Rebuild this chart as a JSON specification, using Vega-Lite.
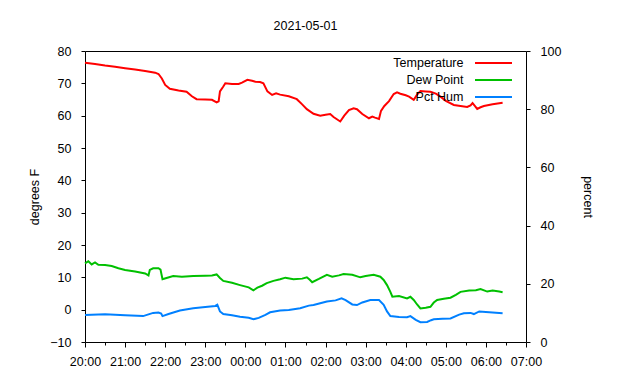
{
  "$schema": "https://vega.github.io/schema/vega-lite/v6.json",
  "width": 441,
  "height": 291,
  "autosize": {"type": "none"},
  "padding": {"left": 85, "top": 51, "right": 114, "bottom": 38},
  "title": {"text": "2021-05-01", "fontSize": 12.5, "fontWeight": "normal", "font": "Liberation Sans", "color": "black", "offset": 13},
  "config": {
    "font": "Liberation Sans",
    "view": {"stroke": "black", "strokeWidth": 1},
    "axis": {"grid": false, "domainColor": "black", "tickColor": "black", "labelColor": "black", "titleColor": "black", "labelFontSize": 12.5, "titleFontSize": 12.5, "titleFontWeight": "normal", "labelFont": "Liberation Sans", "titleFont": "Liberation Sans"},
    "legend": {"orient": "none", "legendX": 398, "legendY": 1.5, "labelFontSize": 12.5, "labelFont": "Liberation Sans", "labelColor": "black", "labelAlign": "right", "labelOffset": -40.5, "symbolType": "M-2,0H2", "symbolSize": 342, "symbolStrokeWidth": 2, "rowPadding": -2, "padding": 0}
  },
  "data": {"values": [
    {"t": "2021-05-01T20:00", "series": "Temperature", "value": 76.4},
    {"t": "2021-05-01T20:15", "series": "Temperature", "value": 76.0},
    {"t": "2021-05-01T20:30", "series": "Temperature", "value": 75.5},
    {"t": "2021-05-01T20:45", "series": "Temperature", "value": 75.1},
    {"t": "2021-05-01T21:00", "series": "Temperature", "value": 74.7},
    {"t": "2021-05-01T21:15", "series": "Temperature", "value": 74.3},
    {"t": "2021-05-01T21:30", "series": "Temperature", "value": 73.8},
    {"t": "2021-05-01T21:45", "series": "Temperature", "value": 73.3},
    {"t": "2021-05-01T21:50", "series": "Temperature", "value": 72.9},
    {"t": "2021-05-01T21:55", "series": "Temperature", "value": 71.5},
    {"t": "2021-05-01T22:00", "series": "Temperature", "value": 69.5},
    {"t": "2021-05-01T22:07", "series": "Temperature", "value": 68.3},
    {"t": "2021-05-01T22:20", "series": "Temperature", "value": 67.8},
    {"t": "2021-05-01T22:32", "series": "Temperature", "value": 67.4},
    {"t": "2021-05-01T22:40", "series": "Temperature", "value": 66.0},
    {"t": "2021-05-01T22:47", "series": "Temperature", "value": 65.1},
    {"t": "2021-05-01T23:00", "series": "Temperature", "value": 65.0},
    {"t": "2021-05-01T23:10", "series": "Temperature", "value": 64.9},
    {"t": "2021-05-01T23:17", "series": "Temperature", "value": 64.1},
    {"t": "2021-05-01T23:20", "series": "Temperature", "value": 64.4},
    {"t": "2021-05-01T23:22", "series": "Temperature", "value": 67.5},
    {"t": "2021-05-01T23:27", "series": "Temperature", "value": 69.0},
    {"t": "2021-05-01T23:30", "series": "Temperature", "value": 70.0},
    {"t": "2021-05-01T23:40", "series": "Temperature", "value": 69.8},
    {"t": "2021-05-01T23:50", "series": "Temperature", "value": 69.8},
    {"t": "2021-05-01T23:55", "series": "Temperature", "value": 70.2},
    {"t": "2021-05-02T00:03", "series": "Temperature", "value": 71.1},
    {"t": "2021-05-02T00:10", "series": "Temperature", "value": 70.8},
    {"t": "2021-05-02T00:15", "series": "Temperature", "value": 70.5},
    {"t": "2021-05-02T00:22", "series": "Temperature", "value": 70.4},
    {"t": "2021-05-02T00:27", "series": "Temperature", "value": 70.0},
    {"t": "2021-05-02T00:33", "series": "Temperature", "value": 67.5},
    {"t": "2021-05-02T00:40", "series": "Temperature", "value": 66.4},
    {"t": "2021-05-02T00:46", "series": "Temperature", "value": 66.9},
    {"t": "2021-05-02T00:52", "series": "Temperature", "value": 66.5},
    {"t": "2021-05-02T01:05", "series": "Temperature", "value": 66.0},
    {"t": "2021-05-02T01:17", "series": "Temperature", "value": 65.1},
    {"t": "2021-05-02T01:25", "series": "Temperature", "value": 63.5},
    {"t": "2021-05-02T01:32", "series": "Temperature", "value": 62.0},
    {"t": "2021-05-02T01:42", "series": "Temperature", "value": 60.6},
    {"t": "2021-05-02T01:52", "series": "Temperature", "value": 60.0},
    {"t": "2021-05-02T02:00", "series": "Temperature", "value": 60.3},
    {"t": "2021-05-02T02:07", "series": "Temperature", "value": 60.5},
    {"t": "2021-05-02T02:12", "series": "Temperature", "value": 59.6},
    {"t": "2021-05-02T02:22", "series": "Temperature", "value": 58.2},
    {"t": "2021-05-02T02:28", "series": "Temperature", "value": 60.0},
    {"t": "2021-05-02T02:35", "series": "Temperature", "value": 61.7},
    {"t": "2021-05-02T02:42", "series": "Temperature", "value": 62.3},
    {"t": "2021-05-02T02:47", "series": "Temperature", "value": 62.0},
    {"t": "2021-05-02T02:55", "series": "Temperature", "value": 60.5},
    {"t": "2021-05-02T03:05", "series": "Temperature", "value": 59.2},
    {"t": "2021-05-02T03:10", "series": "Temperature", "value": 59.7},
    {"t": "2021-05-02T03:14", "series": "Temperature", "value": 59.4},
    {"t": "2021-05-02T03:20", "series": "Temperature", "value": 59.0},
    {"t": "2021-05-02T03:23", "series": "Temperature", "value": 61.5},
    {"t": "2021-05-02T03:28", "series": "Temperature", "value": 63.0},
    {"t": "2021-05-02T03:35", "series": "Temperature", "value": 64.5},
    {"t": "2021-05-02T03:42", "series": "Temperature", "value": 66.7},
    {"t": "2021-05-02T03:47", "series": "Temperature", "value": 67.2},
    {"t": "2021-05-02T03:52", "series": "Temperature", "value": 66.8},
    {"t": "2021-05-02T04:00", "series": "Temperature", "value": 66.3},
    {"t": "2021-05-02T04:05", "series": "Temperature", "value": 65.9},
    {"t": "2021-05-02T04:12", "series": "Temperature", "value": 64.9},
    {"t": "2021-05-02T04:17", "series": "Temperature", "value": 66.5},
    {"t": "2021-05-02T04:22", "series": "Temperature", "value": 67.6},
    {"t": "2021-05-02T04:30", "series": "Temperature", "value": 67.5},
    {"t": "2021-05-02T04:37", "series": "Temperature", "value": 67.4},
    {"t": "2021-05-02T04:45", "series": "Temperature", "value": 66.8},
    {"t": "2021-05-02T04:52", "series": "Temperature", "value": 65.9},
    {"t": "2021-05-02T05:00", "series": "Temperature", "value": 64.6},
    {"t": "2021-05-02T05:12", "series": "Temperature", "value": 63.3},
    {"t": "2021-05-02T05:22", "series": "Temperature", "value": 63.0},
    {"t": "2021-05-02T05:32", "series": "Temperature", "value": 62.7},
    {"t": "2021-05-02T05:37", "series": "Temperature", "value": 63.2},
    {"t": "2021-05-02T05:40", "series": "Temperature", "value": 63.9},
    {"t": "2021-05-02T05:44", "series": "Temperature", "value": 62.9},
    {"t": "2021-05-02T05:47", "series": "Temperature", "value": 62.1},
    {"t": "2021-05-02T05:52", "series": "Temperature", "value": 62.6},
    {"t": "2021-05-02T05:57", "series": "Temperature", "value": 63.0},
    {"t": "2021-05-02T06:10", "series": "Temperature", "value": 63.5},
    {"t": "2021-05-02T06:25", "series": "Temperature", "value": 64.0},
    {"t": "2021-05-01T20:00", "series": "Dew Point", "value": 14.3},
    {"t": "2021-05-01T20:05", "series": "Dew Point", "value": 15.0},
    {"t": "2021-05-01T20:10", "series": "Dew Point", "value": 14.0},
    {"t": "2021-05-01T20:15", "series": "Dew Point", "value": 14.6},
    {"t": "2021-05-01T20:20", "series": "Dew Point", "value": 13.9},
    {"t": "2021-05-01T20:30", "series": "Dew Point", "value": 13.8},
    {"t": "2021-05-01T20:40", "series": "Dew Point", "value": 13.5},
    {"t": "2021-05-01T20:50", "series": "Dew Point", "value": 12.8},
    {"t": "2021-05-01T21:00", "series": "Dew Point", "value": 12.3},
    {"t": "2021-05-01T21:15", "series": "Dew Point", "value": 11.8},
    {"t": "2021-05-01T21:30", "series": "Dew Point", "value": 11.2},
    {"t": "2021-05-01T21:35", "series": "Dew Point", "value": 10.6},
    {"t": "2021-05-01T21:37", "series": "Dew Point", "value": 12.3},
    {"t": "2021-05-01T21:42", "series": "Dew Point", "value": 12.8},
    {"t": "2021-05-01T21:50", "series": "Dew Point", "value": 12.8},
    {"t": "2021-05-01T21:53", "series": "Dew Point", "value": 12.4},
    {"t": "2021-05-01T21:56", "series": "Dew Point", "value": 9.4},
    {"t": "2021-05-01T22:02", "series": "Dew Point", "value": 9.8},
    {"t": "2021-05-01T22:12", "series": "Dew Point", "value": 10.4},
    {"t": "2021-05-01T22:25", "series": "Dew Point", "value": 10.2},
    {"t": "2021-05-01T22:42", "series": "Dew Point", "value": 10.4},
    {"t": "2021-05-01T23:00", "series": "Dew Point", "value": 10.5},
    {"t": "2021-05-01T23:10", "series": "Dew Point", "value": 10.6},
    {"t": "2021-05-01T23:17", "series": "Dew Point", "value": 10.9},
    {"t": "2021-05-01T23:22", "series": "Dew Point", "value": 9.8},
    {"t": "2021-05-01T23:27", "series": "Dew Point", "value": 8.9},
    {"t": "2021-05-01T23:40", "series": "Dew Point", "value": 8.3},
    {"t": "2021-05-01T23:52", "series": "Dew Point", "value": 7.6},
    {"t": "2021-05-02T00:05", "series": "Dew Point", "value": 6.9},
    {"t": "2021-05-02T00:12", "series": "Dew Point", "value": 6.0},
    {"t": "2021-05-02T00:18", "series": "Dew Point", "value": 6.8},
    {"t": "2021-05-02T00:25", "series": "Dew Point", "value": 7.4},
    {"t": "2021-05-02T00:32", "series": "Dew Point", "value": 8.2},
    {"t": "2021-05-02T00:42", "series": "Dew Point", "value": 8.9},
    {"t": "2021-05-02T00:52", "series": "Dew Point", "value": 9.4},
    {"t": "2021-05-02T01:00", "series": "Dew Point", "value": 9.9},
    {"t": "2021-05-02T01:12", "series": "Dew Point", "value": 9.4},
    {"t": "2021-05-02T01:25", "series": "Dew Point", "value": 9.6},
    {"t": "2021-05-02T01:32", "series": "Dew Point", "value": 10.0},
    {"t": "2021-05-02T01:36", "series": "Dew Point", "value": 9.3},
    {"t": "2021-05-02T01:40", "series": "Dew Point", "value": 8.5},
    {"t": "2021-05-02T01:50", "series": "Dew Point", "value": 9.5},
    {"t": "2021-05-02T02:02", "series": "Dew Point", "value": 10.8},
    {"t": "2021-05-02T02:10", "series": "Dew Point", "value": 10.2},
    {"t": "2021-05-02T02:20", "series": "Dew Point", "value": 10.6},
    {"t": "2021-05-02T02:27", "series": "Dew Point", "value": 11.0},
    {"t": "2021-05-02T02:40", "series": "Dew Point", "value": 10.8},
    {"t": "2021-05-02T02:52", "series": "Dew Point", "value": 10.0},
    {"t": "2021-05-02T03:00", "series": "Dew Point", "value": 10.4},
    {"t": "2021-05-02T03:12", "series": "Dew Point", "value": 10.8},
    {"t": "2021-05-02T03:22", "series": "Dew Point", "value": 10.2},
    {"t": "2021-05-02T03:27", "series": "Dew Point", "value": 9.2},
    {"t": "2021-05-02T03:32", "series": "Dew Point", "value": 7.6},
    {"t": "2021-05-02T03:37", "series": "Dew Point", "value": 5.5},
    {"t": "2021-05-02T03:40", "series": "Dew Point", "value": 4.0},
    {"t": "2021-05-02T03:50", "series": "Dew Point", "value": 4.2},
    {"t": "2021-05-02T04:02", "series": "Dew Point", "value": 3.5},
    {"t": "2021-05-02T04:07", "series": "Dew Point", "value": 4.0},
    {"t": "2021-05-02T04:12", "series": "Dew Point", "value": 3.0},
    {"t": "2021-05-02T04:17", "series": "Dew Point", "value": 1.6},
    {"t": "2021-05-02T04:22", "series": "Dew Point", "value": 0.4},
    {"t": "2021-05-02T04:30", "series": "Dew Point", "value": 0.6},
    {"t": "2021-05-02T04:37", "series": "Dew Point", "value": 0.9},
    {"t": "2021-05-02T04:42", "series": "Dew Point", "value": 2.2},
    {"t": "2021-05-02T04:47", "series": "Dew Point", "value": 3.0},
    {"t": "2021-05-02T04:57", "series": "Dew Point", "value": 3.4},
    {"t": "2021-05-02T05:07", "series": "Dew Point", "value": 3.7},
    {"t": "2021-05-02T05:15", "series": "Dew Point", "value": 4.6},
    {"t": "2021-05-02T05:22", "series": "Dew Point", "value": 5.5},
    {"t": "2021-05-02T05:35", "series": "Dew Point", "value": 5.9},
    {"t": "2021-05-02T05:45", "series": "Dew Point", "value": 6.0},
    {"t": "2021-05-02T05:52", "series": "Dew Point", "value": 6.4},
    {"t": "2021-05-02T06:02", "series": "Dew Point", "value": 5.6},
    {"t": "2021-05-02T06:10", "series": "Dew Point", "value": 5.9},
    {"t": "2021-05-02T06:20", "series": "Dew Point", "value": 5.6},
    {"t": "2021-05-02T06:25", "series": "Dew Point", "value": 5.4},
    {"t": "2021-05-01T20:00", "series": "Pct Hum", "value": 9.3},
    {"t": "2021-05-01T20:30", "series": "Pct Hum", "value": 9.5},
    {"t": "2021-05-01T21:00", "series": "Pct Hum", "value": 9.2},
    {"t": "2021-05-01T21:27", "series": "Pct Hum", "value": 8.9},
    {"t": "2021-05-01T21:35", "series": "Pct Hum", "value": 9.5},
    {"t": "2021-05-01T21:42", "series": "Pct Hum", "value": 10.0},
    {"t": "2021-05-01T21:50", "series": "Pct Hum", "value": 10.1},
    {"t": "2021-05-01T21:54", "series": "Pct Hum", "value": 9.8},
    {"t": "2021-05-01T21:56", "series": "Pct Hum", "value": 8.9},
    {"t": "2021-05-01T22:05", "series": "Pct Hum", "value": 9.6},
    {"t": "2021-05-01T22:22", "series": "Pct Hum", "value": 10.8},
    {"t": "2021-05-01T22:42", "series": "Pct Hum", "value": 11.6},
    {"t": "2021-05-01T23:00", "series": "Pct Hum", "value": 12.0},
    {"t": "2021-05-01T23:15", "series": "Pct Hum", "value": 12.4},
    {"t": "2021-05-01T23:18", "series": "Pct Hum", "value": 12.8},
    {"t": "2021-05-01T23:22", "series": "Pct Hum", "value": 10.5},
    {"t": "2021-05-01T23:27", "series": "Pct Hum", "value": 9.6},
    {"t": "2021-05-01T23:40", "series": "Pct Hum", "value": 9.2},
    {"t": "2021-05-01T23:52", "series": "Pct Hum", "value": 8.7},
    {"t": "2021-05-02T00:05", "series": "Pct Hum", "value": 8.3},
    {"t": "2021-05-02T00:12", "series": "Pct Hum", "value": 7.8},
    {"t": "2021-05-02T00:20", "series": "Pct Hum", "value": 8.3},
    {"t": "2021-05-02T00:30", "series": "Pct Hum", "value": 9.3},
    {"t": "2021-05-02T00:37", "series": "Pct Hum", "value": 10.2},
    {"t": "2021-05-02T00:52", "series": "Pct Hum", "value": 10.8},
    {"t": "2021-05-02T01:05", "series": "Pct Hum", "value": 11.0},
    {"t": "2021-05-02T01:22", "series": "Pct Hum", "value": 11.6},
    {"t": "2021-05-02T01:35", "series": "Pct Hum", "value": 12.5},
    {"t": "2021-05-02T01:42", "series": "Pct Hum", "value": 12.7},
    {"t": "2021-05-02T01:52", "series": "Pct Hum", "value": 13.3},
    {"t": "2021-05-02T02:02", "series": "Pct Hum", "value": 13.9},
    {"t": "2021-05-02T02:15", "series": "Pct Hum", "value": 14.3},
    {"t": "2021-05-02T02:24", "series": "Pct Hum", "value": 15.0},
    {"t": "2021-05-02T02:30", "series": "Pct Hum", "value": 14.4},
    {"t": "2021-05-02T02:40", "series": "Pct Hum", "value": 12.9},
    {"t": "2021-05-02T02:47", "series": "Pct Hum", "value": 12.7},
    {"t": "2021-05-02T02:55", "series": "Pct Hum", "value": 13.6},
    {"t": "2021-05-02T03:07", "series": "Pct Hum", "value": 14.4},
    {"t": "2021-05-02T03:20", "series": "Pct Hum", "value": 14.4},
    {"t": "2021-05-02T03:27", "series": "Pct Hum", "value": 12.8},
    {"t": "2021-05-02T03:32", "series": "Pct Hum", "value": 10.5},
    {"t": "2021-05-02T03:37", "series": "Pct Hum", "value": 8.9},
    {"t": "2021-05-02T03:50", "series": "Pct Hum", "value": 8.6},
    {"t": "2021-05-02T04:02", "series": "Pct Hum", "value": 8.5},
    {"t": "2021-05-02T04:07", "series": "Pct Hum", "value": 8.9},
    {"t": "2021-05-02T04:15", "series": "Pct Hum", "value": 7.6},
    {"t": "2021-05-02T04:22", "series": "Pct Hum", "value": 6.8},
    {"t": "2021-05-02T04:32", "series": "Pct Hum", "value": 6.9},
    {"t": "2021-05-02T04:38", "series": "Pct Hum", "value": 7.5},
    {"t": "2021-05-02T04:42", "series": "Pct Hum", "value": 7.8},
    {"t": "2021-05-02T04:55", "series": "Pct Hum", "value": 8.0},
    {"t": "2021-05-02T05:07", "series": "Pct Hum", "value": 8.1},
    {"t": "2021-05-02T05:20", "series": "Pct Hum", "value": 9.4},
    {"t": "2021-05-02T05:27", "series": "Pct Hum", "value": 9.9},
    {"t": "2021-05-02T05:37", "series": "Pct Hum", "value": 10.0},
    {"t": "2021-05-02T05:42", "series": "Pct Hum", "value": 9.6},
    {"t": "2021-05-02T05:50", "series": "Pct Hum", "value": 10.5},
    {"t": "2021-05-02T06:05", "series": "Pct Hum", "value": 10.2},
    {"t": "2021-05-02T06:25", "series": "Pct Hum", "value": 9.9}
  ]},
  "encoding": {
    "x": {
      "field": "t", "type": "temporal", "title": null,
      "scale": {"domain": ["2021-05-01T20:00", "2021-05-02T07:00"]},
      "axis": {
        "format": "%H:%M",
        "tickCount": 22,
        "labelExpr": "minutes(datum.value) == 0 ? datum.label : ''",
        "labelOverlap": false,
        "labelFlush": false,
        "tickSize": {"condition": {"test": "minutes(datum.value) == 0", "value": 5}, "value": 3},
        "labelPadding": 8,
        "domain": false
      }
    },
    "color": {
      "field": "series", "type": "nominal", "title": null,
      "scale": {"domain": ["Temperature", "Dew Point", "Pct Hum"], "range": ["#ff0000", "#00c000", "#0080ff"]}
    }
  },
  "layer": [
    {
      "transform": [{"filter": "datum.series != 'Pct Hum'"}],
      "mark": {"type": "line", "strokeWidth": 2},
      "encoding": {
        "y": {
          "field": "value", "type": "quantitative", "title": "degrees F",
          "scale": {"domain": [-10, 80], "nice": false, "zero": false},
          "axis": {"values": [-10, 0, 10, 20, 30, 40, 50, 60, 70, 80], "tickSize": 4, "labelPadding": 10, "titlePadding": 8, "domain": false}
        }
      }
    },
    {
      "transform": [{"filter": "datum.series == 'Pct Hum'"}],
      "mark": {"type": "line", "strokeWidth": 2},
      "encoding": {
        "y": {
          "field": "value", "type": "quantitative", "title": "percent",
          "scale": {"domain": [0, 100], "nice": false, "zero": false},
          "axis": {"orient": "right", "values": [0, 20, 40, 60, 80, 100], "tickSize": 4, "labelPadding": 10, "titlePadding": 20, "domain": false}
        }
      }
    }
  ],
  "resolve": {"scale": {"y": "independent"}}
}
